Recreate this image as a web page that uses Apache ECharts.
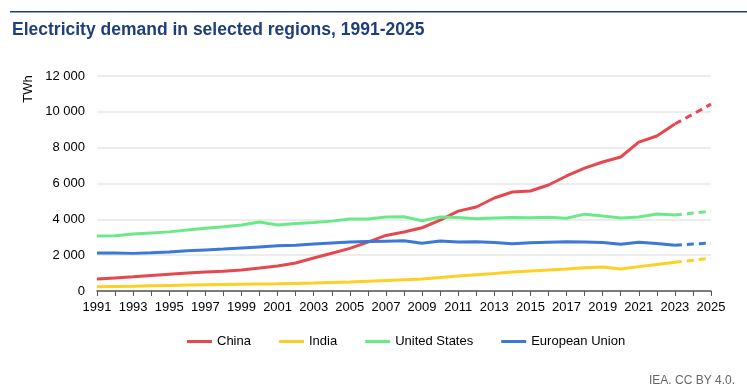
<!DOCTYPE html>
<html>
<head>
<meta charset="utf-8">
<script src="https://cdn.jsdelivr.net/npm/echarts@6/dist/echarts.min.js"></script>
<style>
html,body{margin:0;padding:0;background:#fff;}
#c{width:747px;height:388px;}
</style>
</head>
<body>
<div id="c"></div>
<script>
var years = [];
for (var y = 1991; y <= 2025; y++) years.push(String(y));

var china = [670,730,790,860,930,1000,1060,1100,1170,1280,1400,1560,1840,2110,2380,2730,3100,3290,3530,3960,4460,4690,5190,5525,5580,5915,6420,6860,7200,7480,8310,8650,9320];
var chinaF = [9320,9870,10430];
var india = [240,255,270,290,310,330,350,365,380,390,400,420,440,470,500,545,590,630,670,750,840,910,980,1060,1120,1170,1230,1300,1340,1230,1360,1480,1600];
var indiaF = [1600,1720,1830];
var us = [3070,3080,3180,3240,3300,3400,3500,3580,3680,3850,3680,3770,3820,3900,4020,4020,4130,4140,3920,4130,4100,4030,4070,4100,4090,4110,4060,4290,4180,4080,4130,4300,4240];
var usF = [4240,4350,4460];
var eu = [2120,2120,2100,2130,2180,2240,2290,2340,2400,2460,2520,2560,2620,2680,2730,2760,2780,2800,2660,2790,2740,2750,2710,2640,2690,2720,2750,2740,2710,2610,2720,2650,2560];
var euF = [2560,2620,2680];

var names = ['China','India','United States','European Union'];
var colors = ['#e5484d','#fdd023','#6ae98b','#3b78d8'];
var hist = [china, india, us, eu];
var fcst = [chinaF, indiaF, usF, euF];

function padF(arr){
  var out = [];
  for (var i = 0; i < years.length - arr.length; i++) out.push(null);
  return out.concat(arr);
}

var series = [];
for (var k = 0; k < names.length; k++) {
  series.push({
    name: names[k], type: 'line', data: hist[k], symbol: 'none', smooth: false,
    lineStyle: {width: 3, color: colors[k]}, itemStyle: {color: colors[k]}, z: 3
  });
  series.push({
    name: names[k], type: 'line', data: padF(fcst[k]), symbol: 'none',
    lineStyle: {width: 3, color: colors[k], type: [7,5]}, itemStyle: {color: colors[k]}, z: 3
  });
}

var chart = echarts.init(document.getElementById('c'), null, {renderer: 'canvas'});
chart.setOption({
  animation: false,
  backgroundColor: '#fff',
  textStyle: {fontFamily: 'Liberation Sans, Arial, sans-serif'},
  title: {
    text: 'Electricity demand in selected regions, 1991-2025',
    left: 12, top: 21, padding: 0,
    textStyle: {fontSize: 17.5, fontWeight: 'bold', color: '#1f3f7c', fontFamily: 'Liberation Sans, Arial, sans-serif'}
  },
  graphic: [
    {type: 'rect', shape: {x: 10, y: 11, width: 737, height: 1.5}, style: {fill: '#1f3f7c'}},
    {type: 'text', x: 28, y: 89, rotation: Math.PI/2,
     style: {text: 'TWh', fontSize: 13, fill: '#000', align: 'center', verticalAlign: 'middle', fontFamily: 'Liberation Sans, Arial, sans-serif'}},
    {type: 'text', right: 12, top: 375,
     style: {text: 'IEA. CC BY 4.0.', fontSize: 12, fill: '#666', fontFamily: 'Liberation Sans, Arial, sans-serif'}}
  ],
  legend: {
    data: names, left: 182, top: 330, itemWidth: 25, itemHeight: 3, itemGap: 28,
    icon: 'rect',
    textStyle: {fontSize: 13, color: '#000', fontFamily: 'Liberation Sans, Arial, sans-serif'}
  },
  grid: {left: 97, right: 36, top: 76, bottom: 97},
  xAxis: {
    type: 'category', data: years, boundaryGap: false,
    axisLine: {lineStyle: {color: '#555', width: 1.5}},
    axisTick: {show: true, interval: 0, length: 5, lineStyle: {color: '#555'}},
    axisLabel: {interval: 1, fontSize: 13, color: '#000', margin: 10}
  },
  yAxis: {
    type: 'value', min: 0, max: 12000, interval: 2000,
    axisLine: {show: false}, axisTick: {show: false},
    splitLine: {lineStyle: {color: '#e6e6e6', width: 1.5}},
    axisLabel: {fontSize: 13, color: '#000', margin: 12,
      formatter: function(v){ return String(v).replace(/\B(?=(\d{3})+(?!\d))/g, ' '); }}
  },
  series: series
});
</script>
</body>
</html>
